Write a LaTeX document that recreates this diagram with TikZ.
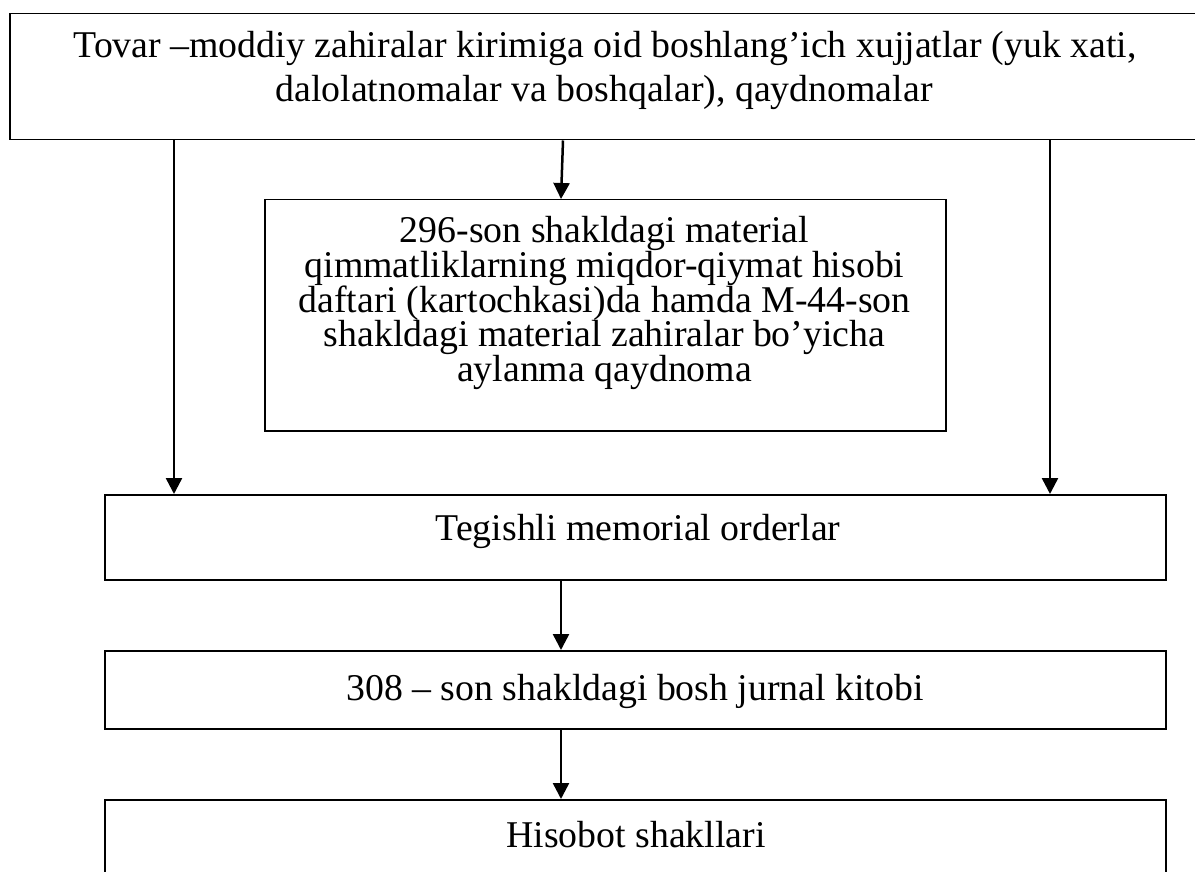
\documentclass[tikz,border=0pt]{standalone}
\usepackage{fontspec}
\setmainfont{Liberation Serif}
\usetikzlibrary{arrows.meta}
\begin{document}
\begin{tikzpicture}[x=1pt,y=-1pt,
  box/.style={draw,line width=1.5pt,inner sep=0pt,anchor=north west},
  line/.style={inner sep=0pt,anchor=base,font=\fontsize{37.8}{44}\selectfont},
  arr/.style={line width=2.5pt,-{Triangle[width=16pt,length=16pt]}}]
\useasboundingbox (0,0) rectangle (1195,872);
\clip (0,0) rectangle (1195,872);
\fill[white] (0,0) rectangle (1195,872);

% boxes
\node[box,minimum width=1191pt,minimum height=126pt] (src) at (9,13) {};
\node[box,minimum width=681pt,minimum height=231pt] (card) at (264,199) {};
\node[box,minimum width=1061pt,minimum height=85pt] (order) at (104,494) {};
\node[box,minimum width=1061pt,minimum height=78pt] (journal) at (104,650) {};
\node[box,minimum width=1061pt,minimum height=100pt] (report) at (104,799) {};

% texts
\node[line] (s1) at (605,58) {Tovar –moddiy zahiralar kirimiga oid boshlang’ich xujjatlar (yuk xati,};
\node[line] (s2) at (604,102) {dalolatnomalar va boshqalar), qaydnomalar};

\node[line] (c1) at (604.5,243) {296-son shakldagi material};
\node[line] (c2) at (604.5,277.5) {qimmatliklarning miqdor-qiymat hisobi};
\node[line] (c3) at (604.5,312) {daftari (kartochkasi)da hamda M-44-son};
\node[line] (c4) at (604.5,346.5) {shakldagi material zahiralar bo’yicha};
\node[line] (c5) at (604.5,381) {aylanma qaydnoma};

\node[line] (o1) at (638,540) {Tegishli memorial orderlar};
\node[line] (j1) at (635,700) {308 – son shakldagi bosh jurnal kitobi};
\node[line] (r1) at (636,847) {Hisobot shakllari};

% connector columns
\coordinate (xl) at (174,0);
\coordinate (xr) at (1050,0);
\coordinate (xm1) at (563,0);
\coordinate (xm2) at (561,0);

\draw[arr] (src.south -| xl) -- (order.north -| xl);
\draw[arr] (src.south -| xr) -- (order.north -| xr);
\draw[arr] (src.south -| xm1) -- (card.north -| xm2);
\draw[arr] (order.south -| xm2) -- (journal.north -| xm2);
\draw[arr] (journal.south -| xm2) -- (report.north -| xm2);
\end{tikzpicture}
\end{document}
